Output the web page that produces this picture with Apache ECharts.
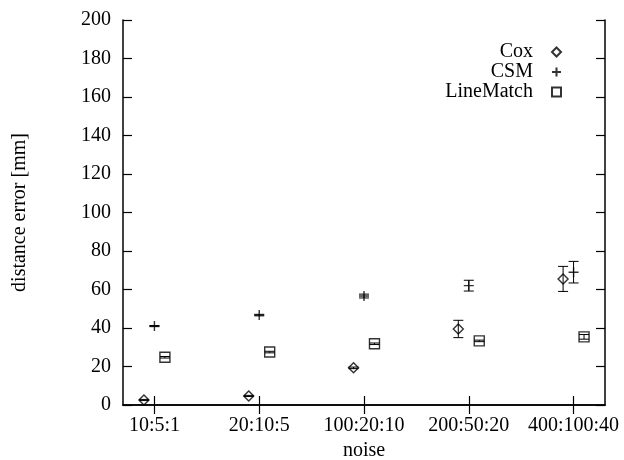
<!DOCTYPE html>
<html>
<head>
<meta charset="utf-8">
<script src="https://cdn.jsdelivr.net/npm/echarts@6/dist/echarts.min.js"></script>
<style>
html,body{margin:0;padding:0;background:#fff;}
#chart{width:624px;height:460px;}
</style>
</head>
<body>
<div id="chart"></div>
<script>
var categories = ['10:5:1', '20:10:5', '100:20:10', '200:50:20', '400:100:40'];
var coxMean = [2.6, 4.7, 19.3, 39.5, 65.5];
var coxErr  = [0.3, 0.3, 0.4, 4.5, 6.5];
var csmMean = [41, 46.7, 56.6, 62, 69];
var csmErr  = [0.3, 0.4, 1.0, 2.8, 5.6];
var lmMean  = [24.8, 27.5, 31.8, 33.3, 35.4];
var lmErr   = [0.4, 0.4, 0.4, 0.4, 1.2];
var yTicks = [0, 20, 40, 60, 80, 100, 120, 140, 160, 180, 200];

var FONT = 'Liberation Serif, Times New Roman, serif';
var OFFSETS = {Cox: -0.1, CSM: 0, LineMatch: 0.1};
var ICONS = {
  Cox: 'path://M0,-1L1,0L0,1L-1,0Z',
  CSM: 'path://M-1,0L1,0M0,-1L0,1',
  LineMatch: 'path://M-1,-1L1,-1L1,1L-1,1Z'
};
var catPos = categories.map(function (c, i) { return i + 1; });

function points(name, mean) {
  return mean.map(function (v, i) { return [catPos[i] + OFFSETS[name], v]; });
}
function bars(name, mean, err) {
  return mean.map(function (v, i) { return [catPos[i] + OFFSETS[name], v, v - err[i], v + err[i]]; });
}
function errRender(params, api) {
  var x = api.value(0), lo = api.value(2), hi = api.value(3);
  var a = api.coord([x, lo]), b = api.coord([x, hi]);
  var hw = 5;
  var st = {stroke: '#000', lineWidth: 1};
  return {type: 'group', children: [
    {type: 'line', shape: {x1: a[0], y1: a[1], x2: b[0], y2: b[1]}, style: st},
    {type: 'line', shape: {x1: a[0] - hw, y1: a[1], x2: a[0] + hw, y2: a[1]}, style: st},
    {type: 'line', shape: {x1: b[0] - hw, y1: b[1], x2: b[0] + hw, y2: b[1]}, style: st}
  ]};
}
var markStyle = {color: 'rgba(0,0,0,0)', borderColor: '#000', borderWidth: 1.4};
function scatter(name, mean, size) {
  return {
    name: name, type: 'scatter', symbol: ICONS[name], symbolSize: size,
    data: points(name, mean), itemStyle: markStyle, silent: true, z: 3
  };
}
function errSeries(name, mean, err) {
  return {
    name: name + ' err', type: 'custom', renderItem: errRender,
    data: bars(name, mean, err), silent: true, z: 2
  };
}

var axisLineStyle = {show: true, lineStyle: {color: '#000', width: 1.5}};
var tickStyle = {show: true, inside: true, length: 9, lineStyle: {color: '#000', width: 1.2}};

var chart = echarts.init(document.getElementById('chart'), null, {renderer: 'canvas'});
chart.setOption({
  animation: false,
  backgroundColor: '#fff',
  grid: {left: 123, right: 19, top: 20, bottom: 55, containLabel: false, outerBoundsMode: 'none'},
  legend: {
    orient: 'vertical', align: 'right', right: 62, top: 42, padding: 0,
    itemWidth: 9, itemHeight: 9, itemGap: 0,
    selectedMode: false,
    textStyle: {fontFamily: FONT, fontSize: 20, color: '#000', padding: [0, 14, 0, 0]},
    data: [
      {name: 'Cox', icon: ICONS.Cox},
      {name: 'CSM', icon: ICONS.CSM},
      {name: 'LineMatch', icon: ICONS.LineMatch}
    ]
  },
  xAxis: [{
    type: 'value', min: 0.7, max: 5.3, position: 'bottom',
    axisLine: axisLineStyle, axisTick: Object.assign({customValues: catPos}, tickStyle),
    splitLine: {show: false},
    axisLabel: {
      customValues: catPos, margin: 11, fontFamily: FONT, fontSize: 20, color: '#000',
      formatter: function (v) { return categories[Math.round(v) - 1]; }
    },
    name: 'noise', nameLocation: 'middle', nameGap: 26,
    nameTextStyle: {fontFamily: FONT, fontSize: 20, color: '#000'}
  }, {
    type: 'value', min: 0.7, max: 5.3, position: 'top',
    axisLine: axisLineStyle, axisTick: Object.assign({customValues: catPos}, tickStyle),
    splitLine: {show: false}, axisLabel: {show: false}
  }],
  yAxis: [{
    type: 'value', min: 0, max: 200, interval: 20, position: 'left',
    axisLine: axisLineStyle, axisTick: tickStyle, splitLine: {show: false},
    axisLabel: {margin: 12, fontFamily: FONT, fontSize: 20, color: '#000'},
    name: 'distance error [mm]', nameLocation: 'middle', nameGap: 93, nameRotate: 90,
    nameTextStyle: {fontFamily: FONT, fontSize: 20, color: '#000'}
  }, {
    type: 'value', min: 0, max: 200, interval: 20, position: 'right',
    axisLine: axisLineStyle, axisTick: tickStyle, splitLine: {show: false},
    axisLabel: {show: false}
  }],
  series: [
    errSeries('Cox', coxMean, coxErr),
    errSeries('CSM', csmMean, csmErr),
    errSeries('LineMatch', lmMean, lmErr),
    scatter('Cox', coxMean, 10),
    scatter('CSM', csmMean, 10),
    scatter('LineMatch', lmMean, 10)
  ]
});
</script>
</body>
</html>
